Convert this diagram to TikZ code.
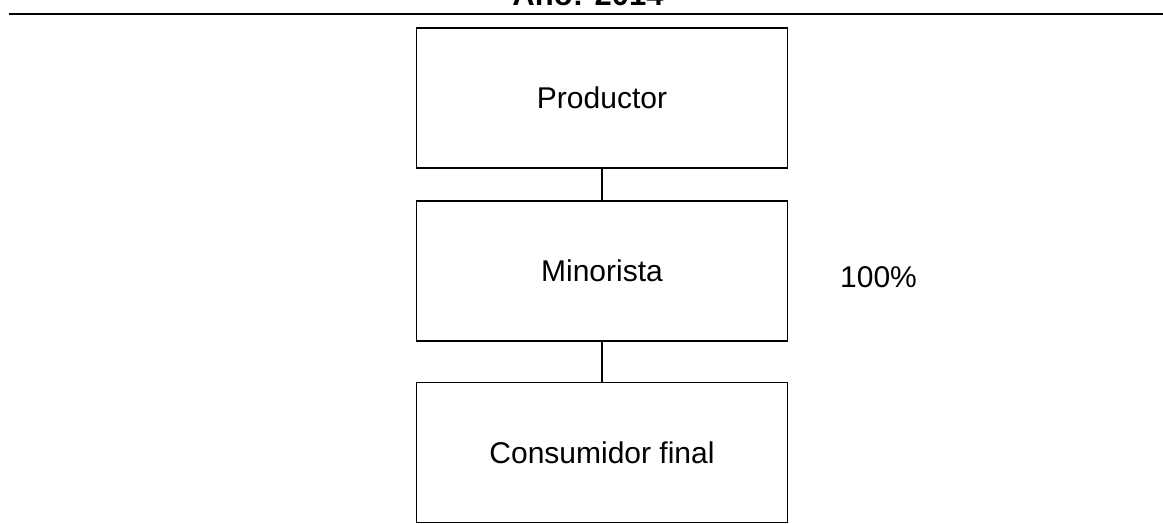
\documentclass[tikz,border=0pt]{standalone}
\usepackage{fontspec}
\setmainfont{Liberation Sans}
\begin{document}
\begin{tikzpicture}[x=1pt,y=-1pt,
  stagebox/.style={draw=black,line width=1.3pt,minimum width=371pt,minimum height=140pt,inner sep=0pt,font=\fontsize{30}{36}\selectfont},
  link/.style={draw=black,line width=2pt},
  lbl/.style={font=\fontsize{30}{36}\selectfont,inner sep=0pt}]
\useasboundingbox (0,0) rectangle (1163,524);
\clip (0,0) rectangle (1163,524);
\node[anchor=base,inner sep=0pt,font=\fontsize{31}{36}\selectfont\bfseries] (title) at (588,6) {Año: 2014};
\coordinate (rl) at (9,14);
\coordinate (rr) at (1163,14);
\draw[line width=1.8pt] (rl) -- (rr);
\node[stagebox] (p) at (602,98) {Productor};
\node[stagebox] (m) at (602,271) {Minorista};
\node[stagebox] (c) at (602,452.5) {Consumidor final};
\draw[link] (p.south) -- (m.north);
\draw[link] (m.south) -- (c.north);
\node[lbl,anchor=base west] (pct) at (840,287) {100\%};
\end{tikzpicture}
\end{document}
